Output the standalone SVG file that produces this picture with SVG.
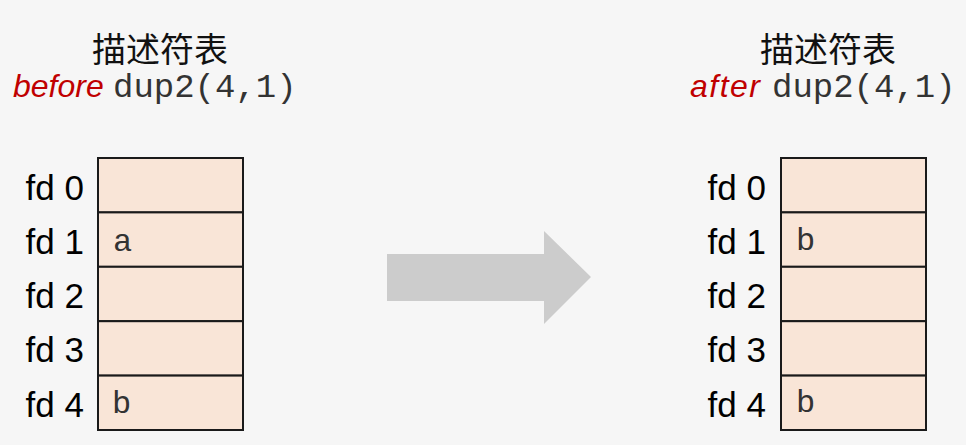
<svg xmlns="http://www.w3.org/2000/svg" width="966" height="445" viewBox="0 0 966 445">
<style>
.cell{fill:#f9e5d7;stroke:#1a1a1a;stroke-width:2}
.lbl{font-family:"Liberation Sans",Arial,sans-serif;font-size:35px;fill:#000;text-anchor:end}
.val{font-family:"Liberation Mono","Courier New",monospace;font-size:32px;fill:#333}
.title{font-family:"Noto Sans CJK SC","Noto Sans",sans-serif;font-size:34px;fill:#111;text-anchor:middle}
.code{font-family:"Liberation Mono","Courier New",monospace;font-size:34px;fill:#333}
.kw{font-family:"Liberation Sans",Arial,sans-serif;font-style:italic;font-size:32px;fill:#c00000}
</style>
<rect x="0" y="0" width="966" height="445" fill="#f6f6f6"/>
<g id="left-title">
<text class="title" x="160" y="62">描述符表</text>
<text class="kw" x="13" y="97">before</text>
<text class="code" x="113" y="97">dup2(4,1)</text>
</g>
<g id="right-title">
<text class="title" x="828" y="62">描述符表</text>
<text class="kw" x="690" y="97" textLength="70">after</text>
<text class="code" x="772" y="97">dup2(4,1)</text>
</g>
<g id="left-table">
<rect class="cell" x="98" y="158" width="145" height="54.4"/>
<rect class="cell" x="98" y="212.4" width="145" height="54.4"/>
<rect class="cell" x="98" y="266.8" width="145" height="54.4"/>
<rect class="cell" x="98" y="321.2" width="145" height="54.4"/>
<rect class="cell" x="98" y="375.6" width="145" height="54.4"/>
<text class="lbl" x="84" y="200">fd 0</text>
<text class="lbl" x="84" y="254">fd 1</text>
<text class="lbl" x="84" y="308">fd 2</text>
<text class="lbl" x="84" y="362">fd 3</text>
<text class="lbl" x="84" y="417">fd 4</text>
<text class="val" x="113" y="251">a</text>
<text class="val" x="112" y="413">b</text>
</g>
<g id="connectors">
<polygon points="387,254 544,254 544,231 591,277 544,324 544,301 387,301" fill="#cccccc"/>
</g>
<g id="right-table">
<rect class="cell" x="781" y="158" width="145" height="54.4"/>
<rect class="cell" x="781" y="212.4" width="145" height="54.4"/>
<rect class="cell" x="781" y="266.8" width="145" height="54.4"/>
<rect class="cell" x="781" y="321.2" width="145" height="54.4"/>
<rect class="cell" x="781" y="375.6" width="145" height="54.4"/>
<text class="lbl" x="766" y="200">fd 0</text>
<text class="lbl" x="766" y="254">fd 1</text>
<text class="lbl" x="766" y="308">fd 2</text>
<text class="lbl" x="766" y="362">fd 3</text>
<text class="lbl" x="766" y="417">fd 4</text>
<text class="val" x="796" y="250">b</text>
<text class="val" x="796" y="412">b</text>
</g>
</svg>
